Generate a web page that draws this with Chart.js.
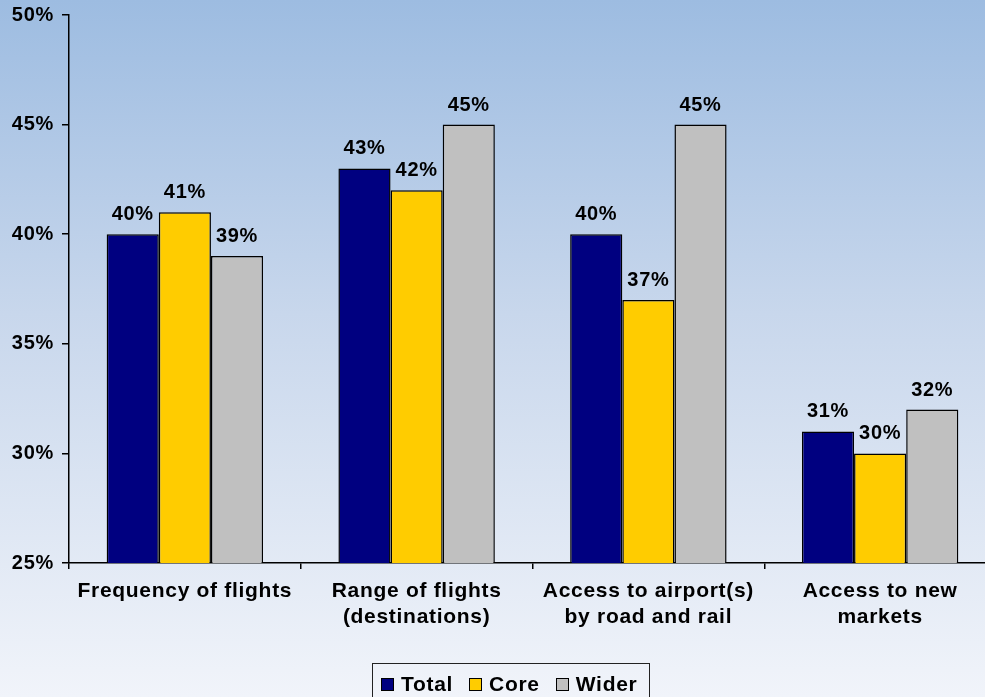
<!DOCTYPE html>
<html>
<head>
<meta charset="utf-8">
<script src="https://cdn.jsdelivr.net/npm/chart.js@4.4.1/dist/chart.umd.min.js"></script>
<style>
    html, body {
        margin: 0;
        padding: 0;
        width: 985px;
        height: 697px;
        overflow: hidden;
        background: linear-gradient(to bottom, #9dbce1 0%, #c8d7ec 45%, #f1f4fa 100%);
        font-family: "Liberation Sans", Arial, sans-serif;
    }
    #wrap {
        position: absolute;
        left: 0;
        top: 0;
        width: 1000px;
        height: 697px;
    }
    #legend {
        position: absolute;
        left: 372px;
        top: 663px;
        width: 278px;
        height: 40px;
        border: 1.5px solid #222;
        box-sizing: border-box;
        display: flex;
        align-items: flex-start;
        padding: 8px 0 0 8px;
        font-weight: bold;
        font-size: 21px;
        letter-spacing: 0.7px;
        color: #000;
    }
    #legend .item {
        display: flex;
        align-items: center;
        margin-right: 16px;
    }
    #legend .box {
        width: 11px;
        height: 11px;
        border: 1.5px solid #000;
        margin-right: 7px;
    }
</style>
</head>
<body>
<div id="wrap"><canvas id="myChart" width="1000" height="697"></canvas></div>
<div id="legend"></div>

<script>
// categories and series (percent)
const categories = [
    'Frequency of flights',
    ['Range of flights', '(destinations)'],
    ['Access to airport(s)', 'by road and rail'],
    ['Access to new', 'markets']
];
const seriesNames = ['Total', 'Core', 'Wider'];
const totalValues = [40, 43, 40, 31];
const coreValues = [41, 42, 37, 30];
const widerValues = [39, 45, 45, 32];
const seriesColors = ['#000080', '#ffcc00', '#c0c0c0'];
const yTicks = [25, 30, 35, 40, 45, 50];

const labelFont = 'bold 20px "Liberation Sans", Arial, sans-serif';

// a bit of tracking on all canvas text
const spacing = {
    id: 'spacing',
    beforeDraw(chart) {
        chart.ctx.letterSpacing = '0.7px';
    }
};

// value labels above each bar
const barLabels = {
    id: 'barLabels',
    afterDatasetsDraw(chart) {
        const ctx = chart.ctx;
        ctx.save();
        ctx.font = labelFont;
        ctx.fillStyle = '#000';
        ctx.textAlign = 'center';
        ctx.textBaseline = 'alphabetic';
        chart.data.datasets.forEach((ds, i) => {
            const meta = chart.getDatasetMeta(i);
            meta.data.forEach((bar, j) => {
                ctx.fillText(ds.data[j] + '%', bar.x, bar.y - 14);
            });
        });
        ctx.restore();
    }
};

const allValues = [totalValues, coreValues, widerValues];

const ctx = document.getElementById('myChart').getContext('2d');
window.myChart = new Chart(ctx, {
    type: 'bar',
    data: {
        labels: categories,
        datasets: seriesNames.map((name, i) => ({
            label: name,
            data: allValues[i],
            backgroundColor: seriesColors[i],
            borderColor: '#000',
            borderWidth: 1.5,
            borderSkipped: false,
            categoryPercentage: 0.675,
            barPercentage: 1.0
        }))
    },
    options: {
        responsive: false,
        animation: false,
        layout: {
            padding: { left: 0, right: 4, top: 15, bottom: 0 }
        },
        plugins: {
            legend: { display: false },
            tooltip: { enabled: false }
        },
        scales: {
            x: {
                offset: true,
                grid: {
                    offset: true,
                    drawOnChartArea: false,
                    drawTicks: true,
                    tickLength: 6,
                    color: '#000',
                    lineWidth: 1.5
                },
                border: { color: '#000', width: 1.5 },
                ticks: {
                    color: '#000',
                    padding: 9,
                    maxRotation: 0,
                    autoSkip: false,
                    font: { family: '"Liberation Sans", Arial, sans-serif', size: 21, weight: 'bold', lineHeight: 1.25 }
                },
                afterFit(scale) { scale.height = 134; }
            },
            y: {
                min: 25,
                max: 50,
                afterBuildTicks(scale) {
                    scale.ticks = yTicks.map(v => ({ value: v }));
                },
                grid: {
                    drawOnChartArea: false,
                    drawTicks: true,
                    tickLength: 7,
                    color: '#000',
                    lineWidth: 1.5
                },
                border: { color: '#000', width: 1.5 },
                ticks: {
                    color: '#000',
                    padding: 8,
                    font: { family: '"Liberation Sans", Arial, sans-serif', size: 20, weight: 'bold' },
                    callback: v => v + '%'
                },
                afterFit(scale) {
                    scale.width = 69;
                    scale.paddingTop = 0;
                    scale.paddingBottom = 0;
                }
            }
        }
    },
    plugins: [spacing, barLabels]
});

// legend built from the series
const legend = document.getElementById('legend');
seriesNames.forEach((name, i) => {
    const item = document.createElement('div');
    item.className = 'item';
    const box = document.createElement('span');
    box.className = 'box';
    box.style.background = seriesColors[i];
    const txt = document.createElement('span');
    txt.textContent = name;
    item.appendChild(box);
    item.appendChild(txt);
    legend.appendChild(item);
});
</script>
</body>
</html>
